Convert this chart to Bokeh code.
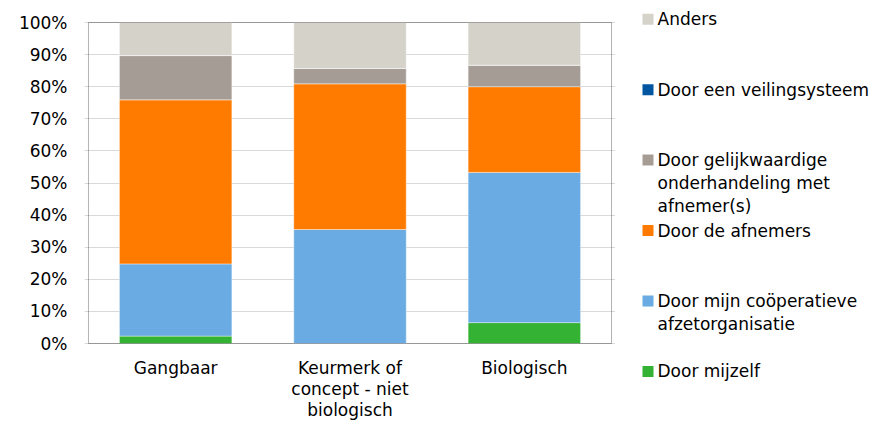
from bokeh.plotting import figure
from bokeh.models import (ColumnDataSource, Range1d, FactorRange, BoxAnnotation,
                          PrintfTickFormatter, FixedTicker)
from bokeh.core.properties import value
from bokeh.layouts import row
from bokeh.embed import file_html
from bokeh.resources import INLINE

categories = ["Gangbaar", "Keurmerk of concept - niet biologisch", "Biologisch"]
category_labels = ["Gangbaar", "Keurmerk of\nconcept - niet\nbiologisch", "Biologisch"]

series_keys = ["mijzelf", "cooperatie", "afnemers", "gelijkwaardig", "veiling", "anders"]
series_labels = ["Door mijzelf",
                 "Door mijn coöperatieve\nafzetorganisatie",
                 "Door de afnemers",
                 "Door gelijkwaardige\nonderhandeling met\nafnemer(s)",
                 "Door een veilingsysteem",
                 "Anders"]
mijzelf = [2.3, 0.0, 6.5]
cooperatie = [22.5, 35.5, 46.8]
afnemers = [51.1, 45.4, 26.7]
gelijkwaardig = [13.8, 4.8, 6.7]
veiling = [0.0, 0.0, 0.0]
anders = [10.3, 14.3, 13.3]
colors = ["#34B233", "#69ABE2", "#FF7B00", "#A59D95", "#0055A0", "#D5D2CA"]
y_ticks = [0, 10, 20, 30, 40, 50, 60, 70, 80, 90, 100]

FONT = "DejaVu Sans"
FSIZE = "17px"
LINE_H = 1.14
XLABEL_LINE_H = 1.07

# ---- page geometry (pixels) ----
W, H = 888, 421
PLOT_LEFT, PLOT_RIGHT = 86, 613
PLOT_TOP, PLOT_BOTTOM = 22, 343
PAD = 2                       # frame extends a little beyond the plot box
MAIN_W = PLOT_RIGHT + PAD
unit = (PLOT_BOTTOM - PLOT_TOP) / 100.0
y_start = -(H - PLOT_BOTTOM) / unit
y_end = 100 + PLOT_TOP / unit
px_per_factor = (PLOT_RIGHT - PLOT_LEFT) / len(categories)

source = ColumnDataSource(dict(cat=categories, label=category_labels,
                               mijzelf=mijzelf, cooperatie=cooperatie,
                               afnemers=afnemers, gelijkwaardig=gelijkwaardig,
                               veiling=veiling, anders=anders))

x_range = FactorRange(factors=categories, range_padding=2 * PAD / px_per_factor,
                      range_padding_units="absolute")
p = figure(x_range=x_range, y_range=Range1d(y_start, y_end), width=MAIN_W, height=H,
           output_backend="svg", toolbar_location=None,
           min_border_left=PLOT_LEFT - PAD, min_border_right=0,
           min_border_top=0, min_border_bottom=0)
p.xaxis.visible = False
p.outline_line_color = None
p.xgrid.grid_line_color = None
p.ygrid.ticker = FixedTicker(ticks=y_ticks)
p.ygrid.grid_line_color = "#d9d9d9"
p.ygrid.grid_line_width = 1

p.vbar_stack(series_keys, x="cat", width=0.645, source=source,
             color=colors, line_color="white", line_width=0.6, line_alpha=0.7)

# plot-area box from 0% to 100% over all categories
p.add_layout(BoxAnnotation(left=0, right=len(categories), bottom=0, top=100,
                           fill_alpha=0, line_color="black", line_width=1, level="overlay"))

p.yaxis.ticker = FixedTicker(ticks=y_ticks)
p.yaxis.formatter = PrintfTickFormatter(format="%d%%")
p.yaxis.axis_line_color = None
p.yaxis.major_tick_line_color = None
p.yaxis.minor_tick_line_color = None
p.yaxis.major_tick_out = 0
p.yaxis.major_tick_in = 0
p.yaxis.major_label_standoff = 19 - PAD
p.yaxis.major_label_text_font = FONT
p.yaxis.major_label_text_font_size = FSIZE
p.yaxis.major_label_text_color = "#000000"

# category labels under the bars
p.text(x="cat", y=0, text="label", source=source, y_offset=14,
       text_align="center", text_baseline="top",
       text_font=value(FONT), text_font_size=value(FSIZE), text_color="#000000",
       text_line_height=XLABEL_LINE_H)

# ---- legend panel ----
LEG_W = W - MAIN_W
n = len(series_labels)
order = list(reversed(range(n)))
first_center = 18.7
pitch = 70.45
sq_x = 642 - MAIN_W + 5.5
txt_x = 657 - MAIN_W
leg_src = ColumnDataSource(dict(
    label=[series_labels[i] for i in order],
    color=[colors[i] for i in order],
    ys=[first_center + k * pitch for k in range(n)],
    yt=[first_center + k * pitch - 10 for k in range(n)],
))
lg = figure(width=LEG_W, height=H, x_range=Range1d(0, LEG_W), y_range=Range1d(H, 0),
            output_backend="svg", toolbar_location=None,
            x_axis_type=None, y_axis_type=None,
            min_border_left=0, min_border_right=0, min_border_top=0, min_border_bottom=0)
lg.grid.visible = False
lg.outline_line_color = None
lg.scatter(x=sq_x, y="ys", marker="square", size=11, color="color", line_color=None,
           source=leg_src)
lg.text(x=txt_x, y="yt", text="label", source=leg_src,
        text_font=value(FONT), text_font_size=value(FSIZE), text_color="#000000",
        text_baseline="top", text_align="left", text_line_height=LINE_H)

layout = row(p, lg)
open("out.html", "w").write(file_html(layout, INLINE))
